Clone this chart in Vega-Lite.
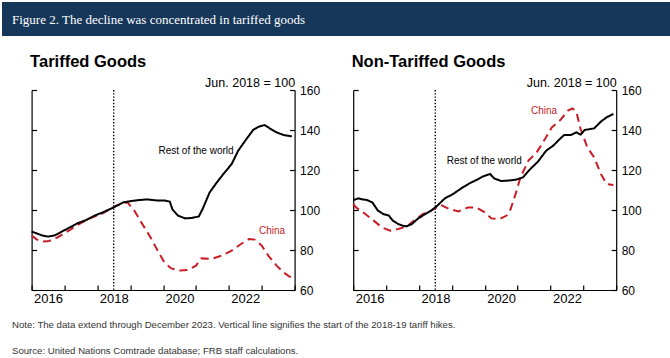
{
  "$schema": "https://vega.github.io/schema/vega-lite/v6.json",
  "padding": {"left": 2, "top": 2, "right": 0, "bottom": 0},
  "background": "white",
  "title": {
    "text": ["Note: The data extend through December 2023. Vertical line signifies the start of the 2018-19 tariff hikes.", "Source: United Nations Comtrade database; FRB staff calculations."],
    "orient": "bottom", "anchor": "start", "frame": "bounds", "dx": 10, "offset": 14.5,
    "lineHeight": 26, "fontSize": 9.6, "font": "Liberation Sans", "fontWeight": "normal",
    "color": "#333333", "baseline": "top"
  },
  "datasets": {
    "series": [
      {"panel": "T", "series": "China", "date": "2016-01-01", "value": 87.2},
      {"panel": "T", "series": "China", "date": "2016-03-01", "value": 85.2},
      {"panel": "T", "series": "China", "date": "2016-05-15", "value": 84.3},
      {"panel": "T", "series": "China", "date": "2016-07-15", "value": 84.5},
      {"panel": "T", "series": "China", "date": "2016-10-15", "value": 86.3},
      {"panel": "T", "series": "China", "date": "2017-01-15", "value": 88.8},
      {"panel": "T", "series": "China", "date": "2017-04-15", "value": 91.3},
      {"panel": "T", "series": "China", "date": "2017-07-15", "value": 93.8},
      {"panel": "T", "series": "China", "date": "2017-10-15", "value": 96},
      {"panel": "T", "series": "China", "date": "2018-02-15", "value": 98},
      {"panel": "T", "series": "China", "date": "2018-05-15", "value": 100.2},
      {"panel": "T", "series": "China", "date": "2018-08-15", "value": 102.5},
      {"panel": "T", "series": "China", "date": "2018-12-01", "value": 103.8},
      {"panel": "T", "series": "China", "date": "2019-02-15", "value": 99.7},
      {"panel": "T", "series": "China", "date": "2019-05-15", "value": 93},
      {"panel": "T", "series": "China", "date": "2019-08-15", "value": 86.3},
      {"panel": "T", "series": "China", "date": "2019-11-01", "value": 79.7},
      {"panel": "T", "series": "China", "date": "2020-01-15", "value": 73.8},
      {"panel": "T", "series": "China", "date": "2020-04-01", "value": 70.8},
      {"panel": "T", "series": "China", "date": "2020-07-01", "value": 69.8},
      {"panel": "T", "series": "China", "date": "2020-10-01", "value": 70},
      {"panel": "T", "series": "China", "date": "2021-01-01", "value": 72.2},
      {"panel": "T", "series": "China", "date": "2021-03-01", "value": 75.8},
      {"panel": "T", "series": "China", "date": "2021-06-15", "value": 75.5},
      {"panel": "T", "series": "China", "date": "2021-10-15", "value": 77.2},
      {"panel": "T", "series": "China", "date": "2022-02-01", "value": 79.7},
      {"panel": "T", "series": "China", "date": "2022-05-15", "value": 83},
      {"panel": "T", "series": "China", "date": "2022-08-15", "value": 85.5},
      {"panel": "T", "series": "China", "date": "2022-10-15", "value": 85.2},
      {"panel": "T", "series": "China", "date": "2023-01-01", "value": 82.2},
      {"panel": "T", "series": "China", "date": "2023-03-15", "value": 77.2},
      {"panel": "T", "series": "China", "date": "2023-06-15", "value": 72.2},
      {"panel": "T", "series": "China", "date": "2023-09-01", "value": 68.8},
      {"panel": "T", "series": "China", "date": "2023-11-01", "value": 66.8},
      {"panel": "T", "series": "China", "date": "2023-12-01", "value": 66.2},
      {"panel": "T", "series": "Rest of the world", "date": "2016-01-01", "value": 89.2},
      {"panel": "T", "series": "Rest of the world", "date": "2016-02-15", "value": 88.5},
      {"panel": "T", "series": "Rest of the world", "date": "2016-05-01", "value": 87.2},
      {"panel": "T", "series": "Rest of the world", "date": "2016-07-01", "value": 86.7},
      {"panel": "T", "series": "Rest of the world", "date": "2016-09-15", "value": 87.3},
      {"panel": "T", "series": "Rest of the world", "date": "2016-11-15", "value": 88.8},
      {"panel": "T", "series": "Rest of the world", "date": "2017-03-01", "value": 91.3},
      {"panel": "T", "series": "Rest of the world", "date": "2017-06-01", "value": 93.5},
      {"panel": "T", "series": "Rest of the world", "date": "2017-09-01", "value": 95},
      {"panel": "T", "series": "Rest of the world", "date": "2017-12-01", "value": 97.2},
      {"panel": "T", "series": "Rest of the world", "date": "2018-03-01", "value": 98.8},
      {"panel": "T", "series": "Rest of the world", "date": "2018-07-01", "value": 101.3},
      {"panel": "T", "series": "Rest of the world", "date": "2018-10-15", "value": 103.8},
      {"panel": "T", "series": "Rest of the world", "date": "2019-01-15", "value": 104.5},
      {"panel": "T", "series": "Rest of the world", "date": "2019-04-15", "value": 105},
      {"panel": "T", "series": "Rest of the world", "date": "2019-07-15", "value": 105.3},
      {"panel": "T", "series": "Rest of the world", "date": "2019-10-15", "value": 104.8},
      {"panel": "T", "series": "Rest of the world", "date": "2020-01-15", "value": 104.8},
      {"panel": "T", "series": "Rest of the world", "date": "2020-03-15", "value": 104.2},
      {"panel": "T", "series": "Rest of the world", "date": "2020-04-15", "value": 100.2},
      {"panel": "T", "series": "Rest of the world", "date": "2020-06-15", "value": 97.2},
      {"panel": "T", "series": "Rest of the world", "date": "2020-09-01", "value": 95.8},
      {"panel": "T", "series": "Rest of the world", "date": "2020-11-15", "value": 96},
      {"panel": "T", "series": "Rest of the world", "date": "2021-02-01", "value": 96.8},
      {"panel": "T", "series": "Rest of the world", "date": "2021-03-15", "value": 100.5},
      {"panel": "T", "series": "Rest of the world", "date": "2021-06-01", "value": 108.8},
      {"panel": "T", "series": "Rest of the world", "date": "2021-08-15", "value": 113.5},
      {"panel": "T", "series": "Rest of the world", "date": "2021-11-01", "value": 118},
      {"panel": "T", "series": "Rest of the world", "date": "2022-02-01", "value": 123},
      {"panel": "T", "series": "Rest of the world", "date": "2022-04-15", "value": 129.7},
      {"panel": "T", "series": "Rest of the world", "date": "2022-07-15", "value": 135.5},
      {"panel": "T", "series": "Rest of the world", "date": "2022-10-01", "value": 140.2},
      {"panel": "T", "series": "Rest of the world", "date": "2022-12-01", "value": 141.7},
      {"panel": "T", "series": "Rest of the world", "date": "2023-02-01", "value": 142.5},
      {"panel": "T", "series": "Rest of the world", "date": "2023-04-01", "value": 140.8},
      {"panel": "T", "series": "Rest of the world", "date": "2023-06-15", "value": 138.8},
      {"panel": "T", "series": "Rest of the world", "date": "2023-09-01", "value": 137.5},
      {"panel": "T", "series": "Rest of the world", "date": "2023-12-01", "value": 136.8},
      {"panel": "N", "series": "China", "date": "2016-01-01", "value": 103},
      {"panel": "N", "series": "China", "date": "2016-02-01", "value": 101.3},
      {"panel": "N", "series": "China", "date": "2016-05-15", "value": 98},
      {"panel": "N", "series": "China", "date": "2016-08-15", "value": 94.7},
      {"panel": "N", "series": "China", "date": "2016-11-15", "value": 91.3},
      {"panel": "N", "series": "China", "date": "2017-02-15", "value": 89.7},
      {"panel": "N", "series": "China", "date": "2017-05-15", "value": 90.5},
      {"panel": "N", "series": "China", "date": "2017-08-15", "value": 91.7},
      {"panel": "N", "series": "China", "date": "2017-11-15", "value": 95},
      {"panel": "N", "series": "China", "date": "2018-02-15", "value": 98},
      {"panel": "N", "series": "China", "date": "2018-05-15", "value": 99.7},
      {"panel": "N", "series": "China", "date": "2018-09-01", "value": 102.5},
      {"panel": "N", "series": "China", "date": "2018-12-01", "value": 100.5},
      {"panel": "N", "series": "China", "date": "2019-03-15", "value": 99.3},
      {"panel": "N", "series": "China", "date": "2019-07-01", "value": 101.3},
      {"panel": "N", "series": "China", "date": "2019-10-01", "value": 101.3},
      {"panel": "N", "series": "China", "date": "2020-01-01", "value": 98.8},
      {"panel": "N", "series": "China", "date": "2020-03-15", "value": 95.8},
      {"panel": "N", "series": "China", "date": "2020-06-15", "value": 95.5},
      {"panel": "N", "series": "China", "date": "2020-09-01", "value": 97.2},
      {"panel": "N", "series": "China", "date": "2020-10-15", "value": 100.5},
      {"panel": "N", "series": "China", "date": "2020-12-15", "value": 108.8},
      {"panel": "N", "series": "China", "date": "2021-02-01", "value": 116.3},
      {"panel": "N", "series": "China", "date": "2021-05-01", "value": 124.7},
      {"panel": "N", "series": "China", "date": "2021-08-01", "value": 128.8},
      {"panel": "N", "series": "China", "date": "2021-11-01", "value": 135.5},
      {"panel": "N", "series": "China", "date": "2022-01-15", "value": 141.3},
      {"panel": "N", "series": "China", "date": "2022-04-15", "value": 144.7},
      {"panel": "N", "series": "China", "date": "2022-07-15", "value": 149.7},
      {"panel": "N", "series": "China", "date": "2022-09-01", "value": 150.8},
      {"panel": "N", "series": "China", "date": "2022-10-15", "value": 149.2},
      {"panel": "N", "series": "China", "date": "2022-12-01", "value": 140.5},
      {"panel": "N", "series": "China", "date": "2023-02-15", "value": 131.3},
      {"panel": "N", "series": "China", "date": "2023-05-01", "value": 126.3},
      {"panel": "N", "series": "China", "date": "2023-07-15", "value": 118},
      {"panel": "N", "series": "China", "date": "2023-09-15", "value": 113},
      {"panel": "N", "series": "China", "date": "2023-12-01", "value": 112.5},
      {"panel": "N", "series": "Rest of the world", "date": "2016-01-01", "value": 105},
      {"panel": "N", "series": "Rest of the world", "date": "2016-03-01", "value": 105.8},
      {"panel": "N", "series": "Rest of the world", "date": "2016-04-15", "value": 105.3},
      {"panel": "N", "series": "Rest of the world", "date": "2016-06-01", "value": 105},
      {"panel": "N", "series": "Rest of the world", "date": "2016-08-01", "value": 103.8},
      {"panel": "N", "series": "Rest of the world", "date": "2016-10-01", "value": 99.7},
      {"panel": "N", "series": "Rest of the world", "date": "2016-12-01", "value": 98},
      {"panel": "N", "series": "Rest of the world", "date": "2017-02-01", "value": 97.2},
      {"panel": "N", "series": "Rest of the world", "date": "2017-03-15", "value": 94.7},
      {"panel": "N", "series": "Rest of the world", "date": "2017-05-15", "value": 93},
      {"panel": "N", "series": "Rest of the world", "date": "2017-07-01", "value": 92.2},
      {"panel": "N", "series": "Rest of the world", "date": "2017-08-15", "value": 91.8},
      {"panel": "N", "series": "Rest of the world", "date": "2017-10-15", "value": 93},
      {"panel": "N", "series": "Rest of the world", "date": "2017-12-15", "value": 95.5},
      {"panel": "N", "series": "Rest of the world", "date": "2018-03-01", "value": 97.7},
      {"panel": "N", "series": "Rest of the world", "date": "2018-05-15", "value": 99.7},
      {"panel": "N", "series": "Rest of the world", "date": "2018-07-15", "value": 101.8},
      {"panel": "N", "series": "Rest of the world", "date": "2018-10-15", "value": 105.8},
      {"panel": "N", "series": "Rest of the world", "date": "2019-01-15", "value": 108},
      {"panel": "N", "series": "Rest of the world", "date": "2019-04-15", "value": 110.8},
      {"panel": "N", "series": "Rest of the world", "date": "2019-07-15", "value": 113.3},
      {"panel": "N", "series": "Rest of the world", "date": "2019-10-01", "value": 115},
      {"panel": "N", "series": "Rest of the world", "date": "2019-12-15", "value": 116.8},
      {"panel": "N", "series": "Rest of the world", "date": "2020-03-01", "value": 118},
      {"panel": "N", "series": "Rest of the world", "date": "2020-04-15", "value": 115.8},
      {"panel": "N", "series": "Rest of the world", "date": "2020-07-01", "value": 114.5},
      {"panel": "N", "series": "Rest of the world", "date": "2020-09-15", "value": 114.7},
      {"panel": "N", "series": "Rest of the world", "date": "2020-12-15", "value": 115.2},
      {"panel": "N", "series": "Rest of the world", "date": "2021-03-01", "value": 116.3},
      {"panel": "N", "series": "Rest of the world", "date": "2021-05-15", "value": 120.2},
      {"panel": "N", "series": "Rest of the world", "date": "2021-08-15", "value": 124.2},
      {"panel": "N", "series": "Rest of the world", "date": "2021-11-15", "value": 129.7},
      {"panel": "N", "series": "Rest of the world", "date": "2022-02-01", "value": 132.2},
      {"panel": "N", "series": "Rest of the world", "date": "2022-04-15", "value": 135.5},
      {"panel": "N", "series": "Rest of the world", "date": "2022-06-01", "value": 137.5},
      {"panel": "N", "series": "Rest of the world", "date": "2022-08-15", "value": 137.5},
      {"panel": "N", "series": "Rest of the world", "date": "2022-10-15", "value": 138.8},
      {"panel": "N", "series": "Rest of the world", "date": "2022-12-01", "value": 137.7},
      {"panel": "N", "series": "Rest of the world", "date": "2023-01-15", "value": 140},
      {"panel": "N", "series": "Rest of the world", "date": "2023-05-01", "value": 140.8},
      {"panel": "N", "series": "Rest of the world", "date": "2023-07-15", "value": 144.2},
      {"panel": "N", "series": "Rest of the world", "date": "2023-09-15", "value": 146.3},
      {"panel": "N", "series": "Rest of the world", "date": "2023-11-15", "value": 147.7},
      {"panel": "N", "series": "Rest of the world", "date": "2023-12-01", "value": 148}
    ],
    "labels": [
      {"panel": "T", "series": "Rest of the world", "date": "2021-01-01", "value": 129.5, "label": "Rest of the world"},
      {"panel": "T", "series": "China", "date": "2023-04-25", "value": 89.3, "label": "China"},
      {"panel": "N", "series": "Rest of the world", "date": "2019-12-27", "value": 124.3, "label": "Rest of the world"},
      {"panel": "N", "series": "China", "date": "2021-10-21", "value": 149.3, "label": "China"}
    ],
    "marker": [
      {"date": "2018-07-01"}
    ]
  },
  "vconcat": [
    {
      "width": 668,
      "height": 34,
      "view": {"fill": "#17375a", "stroke": null},
      "title": {"text": "Figure 2. The decline was concentrated in tariffed goods", "frame": "group", "anchor": "start", "dx": 10, "offset": -35, "baseline": "alphabetic", "color": "white", "font": "Liberation Serif", "fontSize": 13, "fontWeight": "normal"},
      "data": {"values": []},
      "mark": "point"
    },
    {
      "spacing": 24.6,
      "hconcat": [
        {
          "width": 1,
          "height": 1,
          "data": {"values": []},
          "mark": "point"
        },
        {
          "width": 263,
          "height": 200,
          "title": {"text": "Tariffed Goods", "anchor": "start", "frame": "group", "dx": -1.5, "fontSize": 16.5, "fontWeight": "bold", "color": "black", "baseline": "alphabetic", "offset": -7},
          "encoding": {
            "x": {"field": "date", "type": "temporal", "scale": {"type": "utc", "domain": [{"year": 2016, "month": 1, "date": 1, "utc": true}, {"year": 2024, "month": 1, "date": 1, "utc": true}]},
              "axis": {"orient": "bottom", "title": null, "values": [{"year": 2016, "month": 1, "date": 1, "utc": true}, {"year": 2017, "month": 1, "date": 1, "utc": true}, {"year": 2018, "month": 1, "date": 1, "utc": true}, {"year": 2019, "month": 1, "date": 1, "utc": true}, {"year": 2020, "month": 1, "date": 1, "utc": true}, {"year": 2021, "month": 1, "date": 1, "utc": true}, {"year": 2022, "month": 1, "date": 1, "utc": true}, {"year": 2023, "month": 1, "date": 1, "utc": true}, {"year": 2024, "month": 1, "date": 1, "utc": true}],
                "format": "%Y", "formatType": "utc",
                "labelExpr": "(datum.label == '2016' || datum.label == '2018' || datum.label == '2020' || datum.label == '2022') ? datum.label : ''",
                "labelOffset": 16.4, "labelFlush": false, "labelOverlap": false, "labelBound": false, "labelFontSize": 13, "labelPadding": 7, "labelBaseline": "top"}}
          },
          "layer": [
            {
              "data": {"name": "marker"},
              "mark": {"type": "rule", "color": "black", "strokeWidth": 1.4, "strokeDash": [1.4, 1.8]}
            },
            {
              "data": {"name": "series"},
              "transform": [{"filter": "datum.panel == 'T'"}],
              "mark": {"type": "line", "strokeWidth": 2},
              "encoding": {
                "y": {"field": "value", "type": "quantitative", "scale": {"domain": [60, 160]},
                  "axis": {"orient": "right", "values": [60, 80, 100, 120, 140, 160], "labelFontSize": 12, "labelPadding": 10, "minExtent": 30, "title": "Jun. 2018 = 100", "titleAngle": 0, "titleAlign": "right", "titleBaseline": "alphabetic", "titleX": 0, "titleY": -4, "titleFontSize": 12.5, "titleFontWeight": "normal", "titleColor": "black"}},
                "color": {"field": "series", "type": "nominal", "scale": {"domain": ["Rest of the world", "China"], "range": ["#000000", "#c81d25"]}, "legend": null},
                "strokeDash": {"field": "series", "type": "nominal", "scale": {"domain": ["Rest of the world", "China"], "range": [[1, 0], [8, 5]]}, "legend": null}
              }
            },
            {
              "data": {"name": "labels"},
              "transform": [{"filter": "datum.panel == 'T'"}],
              "mark": {"type": "text", "fontSize": 10, "align": "center", "baseline": "middle"},
              "encoding": {
                "y": {"field": "value", "type": "quantitative", "scale": {"domain": [60, 160]},
                  "axis": {"orient": "left", "values": [60, 80, 100, 120, 140, 160], "labels": false, "title": null}},
                "text": {"field": "label"},
                "color": {"field": "series", "type": "nominal", "scale": {"domain": ["Rest of the world", "China"], "range": ["#000000", "#c81d25"]}, "legend": null}
              }
            }
          ]
        },
        {
          "width": 263,
          "height": 200,
          "title": {"text": "Non-Tariffed Goods", "anchor": "start", "frame": "group", "dx": -1.5, "fontSize": 16.5, "fontWeight": "bold", "color": "black", "baseline": "alphabetic", "offset": -7},
          "encoding": {
            "x": {"field": "date", "type": "temporal", "scale": {"type": "utc", "domain": [{"year": 2016, "month": 1, "date": 1, "utc": true}, {"year": 2024, "month": 1, "date": 1, "utc": true}]},
              "axis": {"orient": "bottom", "title": null, "values": [{"year": 2016, "month": 1, "date": 1, "utc": true}, {"year": 2017, "month": 1, "date": 1, "utc": true}, {"year": 2018, "month": 1, "date": 1, "utc": true}, {"year": 2019, "month": 1, "date": 1, "utc": true}, {"year": 2020, "month": 1, "date": 1, "utc": true}, {"year": 2021, "month": 1, "date": 1, "utc": true}, {"year": 2022, "month": 1, "date": 1, "utc": true}, {"year": 2023, "month": 1, "date": 1, "utc": true}, {"year": 2024, "month": 1, "date": 1, "utc": true}],
                "format": "%Y", "formatType": "utc",
                "labelExpr": "(datum.label == '2016' || datum.label == '2018' || datum.label == '2020' || datum.label == '2022') ? datum.label : ''",
                "labelOffset": 16.4, "labelFlush": false, "labelOverlap": false, "labelBound": false, "labelFontSize": 13, "labelPadding": 7, "labelBaseline": "top"}}
          },
          "layer": [
            {
              "data": {"name": "marker"},
              "mark": {"type": "rule", "color": "black", "strokeWidth": 1.4, "strokeDash": [1.4, 1.8]}
            },
            {
              "data": {"name": "series"},
              "transform": [{"filter": "datum.panel == 'N'"}],
              "mark": {"type": "line", "strokeWidth": 2},
              "encoding": {
                "y": {"field": "value", "type": "quantitative", "scale": {"domain": [60, 160]},
                  "axis": {"orient": "right", "values": [60, 80, 100, 120, 140, 160], "labelFontSize": 12, "labelPadding": 10, "minExtent": 30, "title": "Jun. 2018 = 100", "titleAngle": 0, "titleAlign": "right", "titleBaseline": "alphabetic", "titleX": 0, "titleY": -4, "titleFontSize": 12.5, "titleFontWeight": "normal", "titleColor": "black"}},
                "color": {"field": "series", "type": "nominal", "scale": {"domain": ["Rest of the world", "China"], "range": ["#000000", "#c81d25"]}, "legend": null},
                "strokeDash": {"field": "series", "type": "nominal", "scale": {"domain": ["Rest of the world", "China"], "range": [[1, 0], [8, 5]]}, "legend": null}
              }
            },
            {
              "data": {"name": "labels"},
              "transform": [{"filter": "datum.panel == 'N'"}],
              "mark": {"type": "text", "fontSize": 10, "align": "center", "baseline": "middle"},
              "encoding": {
                "y": {"field": "value", "type": "quantitative", "scale": {"domain": [60, 160]},
                  "axis": {"orient": "left", "values": [60, 80, 100, 120, 140, 160], "labels": false, "title": null}},
                "text": {"field": "label"},
                "color": {"field": "series", "type": "nominal", "scale": {"domain": ["Rest of the world", "China"], "range": ["#000000", "#c81d25"]}, "legend": null}
              }
            }
          ]
        }
      ]
    }
  ],
  "spacing": 17,
  "config": {
    "font": "Liberation Sans",
    "view": {"stroke": null},
    "axis": {"domainColor": "black", "tickColor": "black", "labelColor": "black", "domainWidth": 1.2, "tickWidth": 1.2, "grid": false, "tickSize": -5, "labelFont": "Liberation Sans", "titleFont": "Liberation Sans"}
  }
}
